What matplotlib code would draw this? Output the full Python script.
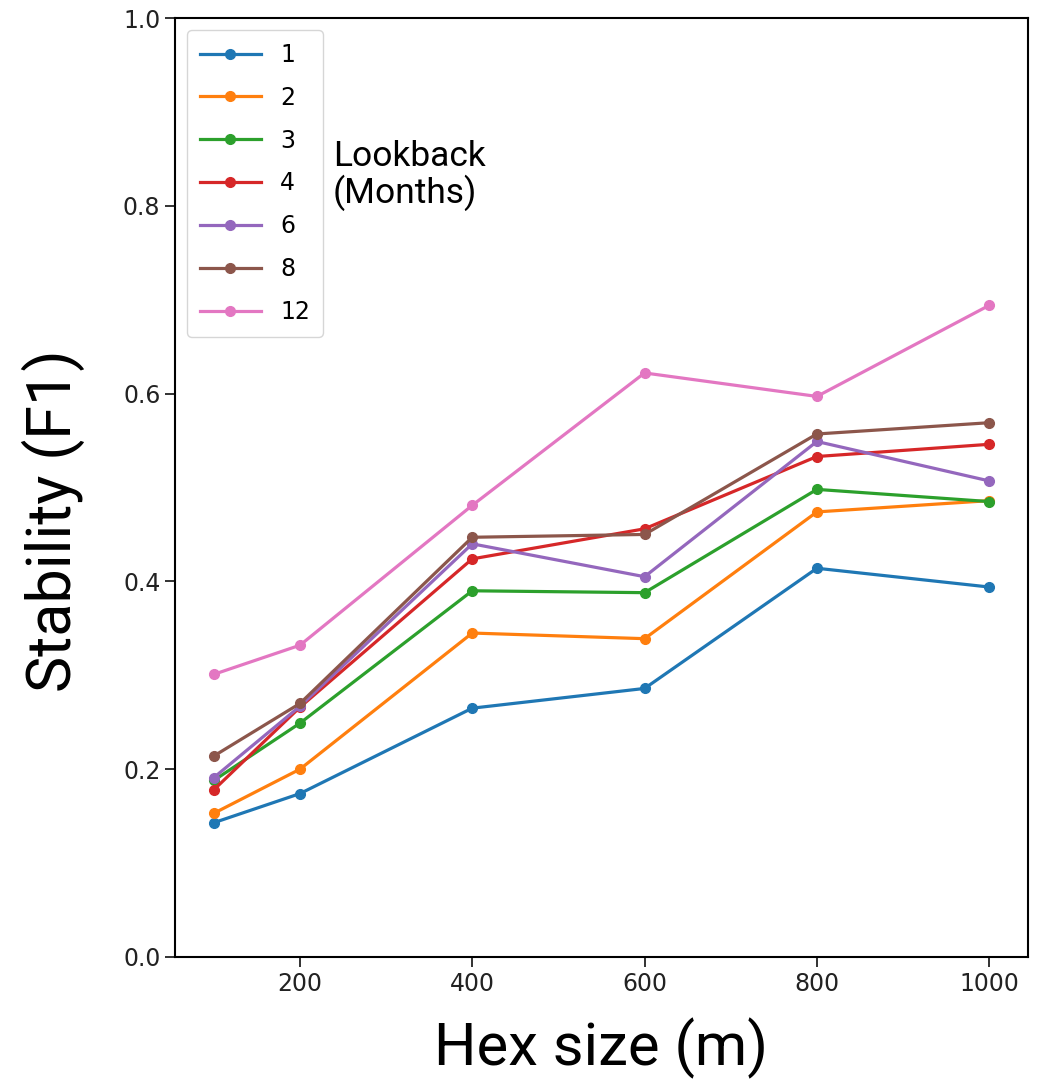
import matplotlib
matplotlib.use("Agg")
import matplotlib.pyplot as plt

hex_size = [100, 200, 400, 600, 800, 1000]
lookback = ['1', '2', '3', '4', '6', '8', '12']

f1_1 = [0.143, 0.174, 0.265, 0.286, 0.414, 0.394]
f1_2 = [0.153, 0.200, 0.345, 0.339, 0.474, 0.486]
f1_3 = [0.188, 0.249, 0.390, 0.388, 0.498, 0.485]
f1_4 = [0.178, 0.266, 0.424, 0.456, 0.533, 0.546]
f1_6 = [0.191, 0.267, 0.440, 0.405, 0.549, 0.507]
f1_8 = [0.214, 0.270, 0.447, 0.450, 0.557, 0.569]
f1_12 = [0.301, 0.332, 0.481, 0.622, 0.597, 0.694]

series = [f1_1, f1_2, f1_3, f1_4, f1_6, f1_8, f1_12]

lab_font = 'Roboto'

fig = plt.figure(figsize=(10.56, 10.85), dpi=100)
ax = fig.add_axes([175 / 1056, 1 - 957 / 1085, (1028 - 175) / 1056, (957 - 18) / 1085])

for vals, lab in zip(series, lookback):
    ax.plot(hex_size, vals, marker='o', markersize=7, linewidth=2.3, label=lab)

ax.set_ylim(0, 1.0)
ax.set_yticks([0.0, 0.2, 0.4, 0.6, 0.8, 1.0])
ax.set_xticks([200, 400, 600, 800, 1000])
ax.tick_params(labelsize=17, length=7, width=1.3, colors='#222222')
for s in ax.spines.values():
    s.set_linewidth(1.5)

leg = ax.legend(loc='upper left', fontsize=17, handlelength=2.6, labelspacing=0.8,
                borderpad=0.55, frameon=True)

ax.text(0.185, 0.87, 'Lookback\n(Months)', transform=ax.transAxes, family=lab_font,
        fontsize=25.5, va='top', ha='left', linespacing=1.05)

ax.set_xlabel('Hex size (m)', family=lab_font, fontsize=43, labelpad=16)
ax.set_ylabel('Stability (F1)', family=lab_font, fontsize=44, labelpad=27)
ax.yaxis.label.set_y(0.465)

fig.savefig('out.png', dpi=100)
